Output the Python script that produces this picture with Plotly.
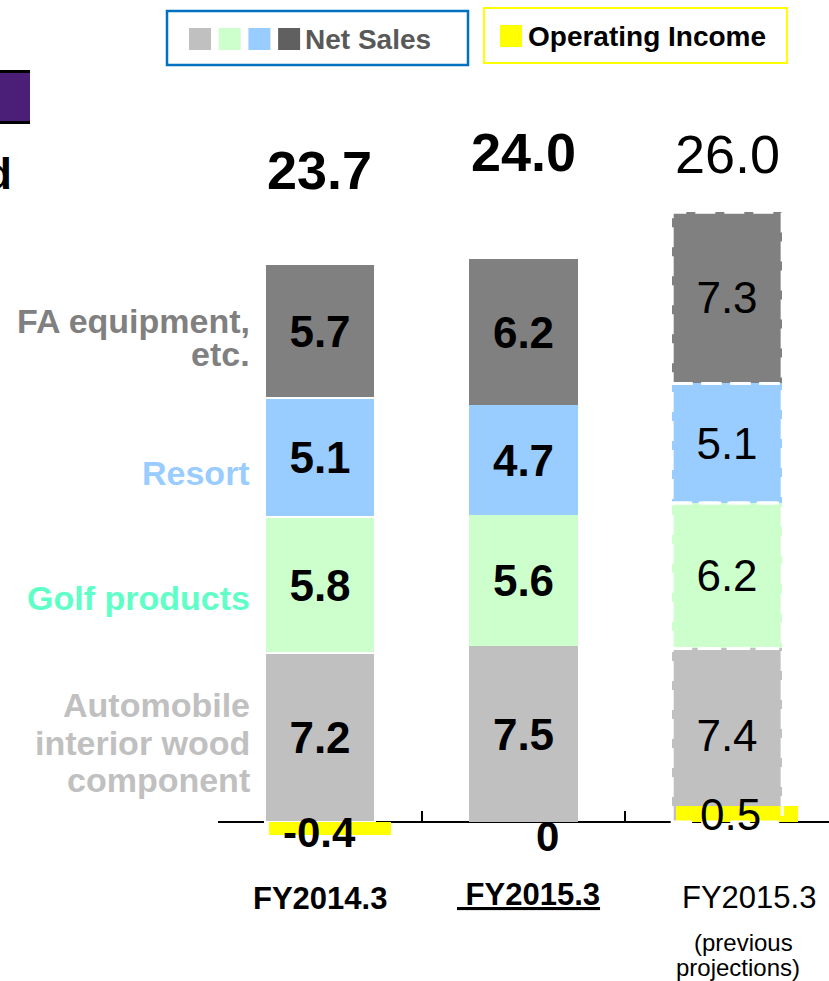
import plotly.graph_objects as go

# ---- data -------------------------------------------------------------
periods = ["FY2014.3", "FY2015.3", "FY2015.3 (previous projections)"]
automobile = [7.2, 7.5, 7.4]
golf = [5.8, 5.6, 6.2]
resort = [5.1, 4.7, 5.1]
fa_equipment = [5.7, 6.2, 7.3]
net_sales_total = [23.7, 24.0, 26.0]
operating_income = [-0.4, 0, 0.5]

segment_names = ["Automobile interior wood component", "Golf products",
                 "Resort", "FA equipment, etc."]
segment_label_lines = [["Automobile", "interior wood", "component"],
                       ["Golf products"], ["Resort"], ["FA equipment,", "etc."]]
period_label_lines = [["FY2014.3"], ["\u00a0FY2015.3"],
                      ["FY2015.3", "(previous", "projections)"]]

# ---- styling ----------------------------------------------------------
W, H = 829, 981
FONT = "Liberation Sans, Arial, sans-serif"
bar_colors = ["#c0c0c0", "#ccffcc", "#99ccff", "#808080"]
label_colors = ["#c0c0c0", "#5fffc8", "#99ccff", "#808080"]
legend_square_colors = ["#c0c0c0", "#ccffcc", "#99ccff", "#606060"]
income_color = "#ffff00"
is_actual = [True, True, False]          # actuals bold, projection regular
underlined = [False, True, False]
dashed_outline = [False, False, True]
segment_gap = [2, 0, 0]                  # white separator width per period

AXIS_Y = 822                 # pixel row of the zero line
SALES_PX = 23.45             # pixels per unit, net sales
INCOME_PX = 32.0             # pixels per unit, operating income
BAR_W = 0.54


def px(x):
    return x / W


def py(y):
    return 1 - y / H


def fmt(v, bold):
    s = f"{v:.1f}"
    return f"<b>{s}</b>" if bold else s


fig = go.Figure()

series = [automobile, golf, resort, fa_equipment]
for name, vals, col in zip(segment_names, series, bar_colors):
    fig.add_trace(go.Bar(
        name=name, x=periods, y=vals, width=BAR_W,
        marker=dict(color=col, line=dict(color="white", width=segment_gap)),
        text=[fmt(v, b) for v, b in zip(vals, is_actual)],
        textposition="inside", insidetextanchor="middle", textangle=0,
        constraintext="none",
        textfont=dict(family=FONT, size=44, color="black"),
        hoverinfo="skip", showlegend=False, yaxis="y",
    ))

# operating income on its own scale, drawn over the sales stack
fig.add_trace(go.Bar(
    name="Operating Income", x=periods, y=operating_income,
    width=0.6, offset=-0.25,
    marker=dict(color=income_color, line=dict(width=0)),
    textposition="none",
    hoverinfo="skip", showlegend=False, yaxis="y2",
))

shapes = []
annotations = []

# dashed outline around the projected segments
for i, flag in enumerate(dashed_outline):
    if not flag:
        continue
    base = 0.0
    for vals in series:
        top = base + vals[i]
        shapes.append(dict(type="rect", xref="x", yref="y",
                           x0=i - BAR_W / 2, x1=i + BAR_W / 2, y0=base, y1=top,
                           line=dict(color="white", width=3, dash="20px,9px"),
                           fillcolor="rgba(0,0,0,0)", layer="above"))
        base = top

# totals above each stack
total_shift = [96, 107, 58]
for i, (t, b) in enumerate(zip(net_sales_total, is_actual)):
    annotations.append(dict(x=periods[i], y=t, xref="x", yref="y",
                            text=fmt(t, b), showarrow=False,
                            yanchor="middle", yshift=total_shift[i],
                            font=dict(family=FONT, size=54, color="black")))

# operating income values
income_shift = [(0, 2), (24, -14), (3, -8)]
for i, (v, b) in enumerate(zip(operating_income, is_actual)):
    s = f"{v:g}"
    annotations.append(dict(x=periods[i], y=v, xref="x", yref="y2",
                            text=f"<b>{s}</b>" if b else s, showarrow=False,
                            yanchor="middle", xshift=income_shift[i][0],
                            yshift=income_shift[i][1],
                            font=dict(family=FONT, size=42 if b else 44,
                                      color="black")))

# period labels under the axis
period_rows = [[898], [894], [897, 942, 967]]
period_xshift = [[0], [5], [22, 16, 11]]
for i, lines in enumerate(period_label_lines):
    for j, line in enumerate(lines):
        txt = line
        size = 31 if j == 0 else 24
        if j == 0:
            if underlined[i]:
                txt = f"<u>{txt}</u>"
            if is_actual[i]:
                txt = f"<b>{txt}</b>"
        annotations.append(dict(x=periods[i], xref="x", y=py(period_rows[i][j]),
                                yref="paper", text=txt, showarrow=False,
                                yanchor="middle", xshift=period_xshift[i][j],
                                font=dict(family=FONT, size=size, color="black")))

# segment names at the left
segment_rows = [[705, 743, 780], [598], [473], [321, 354]]
for lines, rows, col in zip(segment_label_lines, segment_rows, label_colors):
    for line, row in zip(lines, rows):
        annotations.append(dict(x=px(252), y=py(row), xref="paper", yref="paper",
                                text=f"<b>{line}</b>", showarrow=False,
                                xanchor="right", yanchor="middle",
                                font=dict(family=FONT, size=34, color=col)))

# legend: net sales box
shapes.append(dict(type="rect", xref="paper", yref="paper",
                   x0=px(167), x1=px(468), y0=py(11), y1=py(65),
                   line=dict(color="#0070c0", width=2.5), fillcolor="white"))
for k, col in enumerate(legend_square_colors):
    x0 = 189 + k * 29.7
    shapes.append(dict(type="rect", xref="paper", yref="paper",
                       x0=px(x0), x1=px(x0 + 22), y0=py(28), y1=py(50),
                       line=dict(width=0), fillcolor=col))
annotations.append(dict(x=px(303), y=py(39), xref="paper", yref="paper",
                        text="<b>Net Sales</b>", showarrow=False,
                        xanchor="left", yanchor="middle",
                        font=dict(family=FONT, size=28, color="#595959")))

# legend: operating income box
shapes.append(dict(type="rect", xref="paper", yref="paper",
                   x0=px(484), x1=px(787), y0=py(8), y1=py(63),
                   line=dict(color=income_color, width=2), fillcolor="white"))
shapes.append(dict(type="rect", xref="paper", yref="paper",
                   x0=px(500), x1=px(522), y0=py(25), y1=py(47),
                   line=dict(width=0), fillcolor=income_color))
annotations.append(dict(x=px(526), y=py(36), xref="paper", yref="paper",
                        text="<b>Operating Income</b>", showarrow=False,
                        xanchor="left", yanchor="middle",
                        font=dict(family=FONT, size=28, color="black")))

# slide heading fragments at the left edge
shapes.append(dict(type="rect", xref="paper", yref="paper",
                   x0=0, x1=px(30), y0=py(72), y1=py(122),
                   line=dict(width=0), fillcolor="#4b1e78"))
for yy in (71.5, 122.5):
    shapes.append(dict(type="line", xref="paper", yref="paper",
                       x0=0, x1=px(30), y0=py(yy), y1=py(yy),
                       line=dict(color="black", width=3)))
annotations.append(dict(x=px(14), y=py(174), xref="paper", yref="paper",
                        text="<b>d</b>", showarrow=False,
                        xanchor="right", yanchor="middle",
                        font=dict(family=FONT, size=44, color="black")))

fig.update_layout(
    width=W, height=H,
    margin=dict(l=0, r=0, t=0, b=0),
    paper_bgcolor="white", plot_bgcolor="white",
    barmode="stack", bargap=0,
    showlegend=False,
    xaxis=dict(type="category", categoryorder="array", categoryarray=periods,
               range=[-0.5, 2.5], domain=[px(218), 1],
               anchor="free", position=1 - AXIS_Y / H,
               showline=True, linecolor="black", linewidth=2,
               ticks="inside", ticklen=10, tickwidth=2, tickcolor="black",
               tickson="boundaries", showticklabels=False,
               showgrid=False, zeroline=False, layer="below traces"),
    yaxis=dict(range=[-(H - AXIS_Y) / SALES_PX, AXIS_Y / SALES_PX],
               visible=False, domain=[0, 1]),
    yaxis2=dict(range=[-(H - AXIS_Y) / INCOME_PX, AXIS_Y / INCOME_PX],
                visible=False, overlaying="y"),
    shapes=shapes,
    annotations=annotations,
)

fig.write_html("out.html")
